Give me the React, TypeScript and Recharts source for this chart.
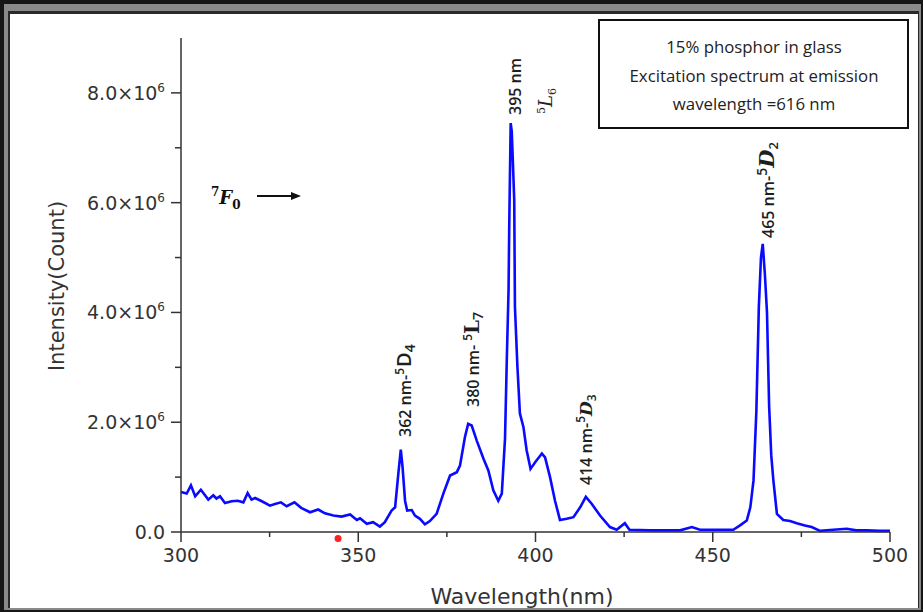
import React from 'react';
import { LineChart, Line, XAxis, YAxis, ReferenceDot } from 'recharts';

// Wavelength (nm)
const wavelength: number[] = [
  300.0, 301.6, 302.8, 304.0, 305.6, 307.7, 309.1, 310.0, 311.0, 312.4,
  314.3, 316.0, 317.6, 318.8, 319.9, 320.9, 322.8, 325.1, 326.5, 328.2,
  329.8, 332.0, 333.9, 336.4, 338.7, 340.6, 343.0, 345.3, 347.7, 349.6,
  350.5, 352.4, 354.2, 356.1, 357.5, 359.4, 360.4, 361.3, 362.0, 362.5,
  363.2, 363.8, 365.1, 366.0, 367.4, 368.8, 370.2, 372.1, 374.0, 375.9,
  377.8, 378.7, 380.1, 381.0, 382.0, 383.4, 385.3, 386.7, 388.1, 389.5,
  390.5, 391.4, 391.9, 392.4, 392.6, 393.0, 393.3, 393.6, 394.0, 394.2,
  394.9, 395.6, 396.6, 397.5, 398.6, 399.9, 401.8, 402.7, 404.1, 405.5,
  406.9, 408.8, 410.7, 412.6, 414.2, 415.9, 418.2, 421.0, 422.9, 425.2,
  426.5, 432.3, 440.8, 444.1, 446.4, 455.8, 457.7, 459.6, 460.6, 461.5,
  462.3, 463.0, 463.6, 464.1, 464.7, 465.3, 465.9, 466.5, 467.1, 468.1,
  469.9, 471.8, 473.7, 476.0, 477.9, 480.3, 484.0, 487.8, 490.5, 493.4,
  497.0, 500.0,
];

// Intensity in units of 10^6 counts
const intensity: number[] = [
  0.73, 0.70, 0.85, 0.65, 0.77, 0.59, 0.67, 0.61, 0.65, 0.53,
  0.56, 0.57, 0.54, 0.71, 0.59, 0.62, 0.56, 0.48, 0.51, 0.54,
  0.47, 0.54, 0.44, 0.36, 0.41, 0.34, 0.30, 0.28, 0.32, 0.22,
  0.25, 0.15, 0.18, 0.10, 0.18, 0.39, 0.45, 1.06, 1.50, 1.18,
  0.57, 0.39, 0.40, 0.30, 0.24, 0.14, 0.20, 0.33, 0.70, 1.03,
  1.09, 1.21, 1.73, 1.97, 1.94, 1.67, 1.34, 1.12, 0.76, 0.57,
  0.70, 1.70, 3.13, 4.41, 5.62, 7.45, 7.30, 6.78, 6.05, 4.10,
  3.01, 2.16, 1.91, 1.49, 1.15, 1.27, 1.43, 1.36, 1.00, 0.57,
  0.22, 0.24, 0.27, 0.45, 0.64, 0.51, 0.30, 0.09, 0.04, 0.16,
  0.04, 0.03, 0.03, 0.09, 0.04, 0.04, 0.12, 0.21, 0.45, 0.94,
  2.20, 4.10, 5.00, 5.25, 4.70, 4.00, 2.30, 1.40, 0.94, 0.33,
  0.22, 0.20, 0.16, 0.12, 0.09, 0.02, 0.04, 0.06, 0.03, 0.03,
  0.02, 0.02,
];

const xTicks: number[] = [300, 325, 350, 375, 400, 425, 450, 475, 500];
const yTicks: number[] = [0, 1, 2, 3, 4, 5, 6, 7, 8];

const legendLines: string[] = [
  '15% phosphor in glass',
  'Excitation spectrum at emission',
  'wavelength =616 nm',
];

const data = wavelength.map((w, i) => ({ w, v: intensity[i] }));

const AXIS = '#333';
const SANS = 'DejaVu Sans';
const ANN = 'Open Sans';
const SERIF = 'DejaVu Serif';

const XTick = (props: any) => {
  const { x, y, payload } = props;
  const major = payload.value % 50 === 0;
  return (
    <g>
      <line x1={x} x2={x} y1={y} y2={y + (major ? 10 : 5)} stroke={AXIS} strokeWidth={1.5} />
      {major && (
        <text x={x} y={y + 30} textAnchor="middle" fontFamily={SANS} fontSize={19} fill={AXIS}>
          {payload.value}
        </text>
      )}
    </g>
  );
};

const YTick = (props: any) => {
  const { x, y, payload } = props;
  const v = payload.value;
  const major = v % 2 === 0;
  return (
    <g>
      <line x1={x - (major ? 10 : 6)} x2={x} y1={y} y2={y} stroke={AXIS} strokeWidth={1.5} />
      {major && (
        <text x={x - 16} y={y + 7} textAnchor="end" fontFamily={SANS} fontSize={19} fill={AXIS}>
          {v === 0 ? (
            '0.0'
          ) : (
            <>
              {v.toFixed(1)}×10
              <tspan dy={-8} fontSize={12}>6</tspan>
            </>
          )}
        </text>
      )}
    </g>
  );
};

const Rot = ({ x, y, children }: { x: number; y: number; children: React.ReactNode }) => (
  <text transform={`translate(${x},${y}) rotate(-90)`} fill="#1e1e1e" fontFamily={ANN} fontSize={16} fontWeight={600}>
    {children}
  </text>
);

export default function App() {
  return (
    <div style={{ position: 'absolute', left: 0, top: 0, width: 923, height: 612, overflow: 'hidden' }}>
      <div style={{ position: 'absolute', left: 0, top: 0, width: 923, height: 612, background: '#161616' }} />
      <div
        style={{
          position: 'absolute',
          left: 4,
          top: 4,
          width: 923 - 6,
          height: 612 - 6,
          background: '#8a8a8a',
        }}
      />
      <div
        style={{
          position: 'absolute',
          left: 8,
          top: 11,
          width: 923 - 12,
          height: 612 - 15,
          background: '#2a2a2a',
        }}
      />
      <div
        style={{
          position: 'absolute',
          left: 10,
          top: 14,
          width: 923 - 15,
          height: 612 - 18,
          background: '#ffffff',
        }}
      />
      <div style={{ position: 'absolute', left: 0, top: 0 }}>
        <LineChart width={923} height={612} data={data} margin={{ top: 38, right: 33, bottom: 0, left: 0 }}>
          <XAxis
            dataKey="w"
            type="number"
            domain={[300, 500]}
            ticks={xTicks}
            interval={0}
            height={80}
            tickSize={0}
            tickMargin={0}
            tickLine={false}
            tick={<XTick />}
            axisLine={{ stroke: AXIS, strokeWidth: 1.5 }}
          />
          <YAxis
            type="number"
            domain={[0, 9]}
            ticks={yTicks}
            interval={0}
            width={181}
            tickSize={0}
            tickMargin={0}
            tickLine={false}
            tick={<YTick />}
            axisLine={{ stroke: AXIS, strokeWidth: 1.5 }}
          />
          <Line
            type="linear"
            dataKey="v"
            stroke="#0a0aff"
            strokeWidth={2.6}
            dot={false}
            isAnimationActive={false}
          />
          <ReferenceDot x={344.3} y={-0.12} r={3.5} fill="#ff2020" stroke="none" ifOverflow="visible" />
        </LineChart>
      </div>
      <svg width={923} height={612} style={{ position: 'absolute', left: 0, top: 0, pointerEvents: 'none' }}>
        <text
          transform="translate(57,286) rotate(-90)"
          textAnchor="middle"
          dominantBaseline="central"
          fontFamily={SANS}
          fontSize={21}
          fill={AXIS}
        >
          Intensity(Count)
        </text>
        <text x={522} y={604} textAnchor="middle" fontFamily={SANS} fontSize={22} fill={AXIS}>
          Wavelength(nm)
        </text>

        <rect x={599} y={20} width={309} height={108} fill="#fff" stroke="#111" strokeWidth={2} />
        {legendLines.map((t, i) => (
          <text key={t} x={754} y={53 + i * 28.5} textAnchor="middle" fontFamily={ANN} fontSize={16.8} fill="#222">
            {t}
          </text>
        ))}

        <Rot x={521} y={115}>395 nm</Rot>
        <text transform="translate(552,114) rotate(-90)" fill="#222" fontFamily={SERIF} fontSize={18}>
          <tspan fontSize={11} dy={-7}>5</tspan>
          <tspan fontStyle="italic" dy={7}>L</tspan>
          <tspan fontSize={11} dy={4}>6</tspan>
        </text>

        <Rot x={774} y={238}>
          465 nm-
          <tspan fontSize={14} dy={-7}>5</tspan>
          <tspan fontFamily={SERIF} fontStyle="italic" fontSize={21} dy={7}>D</tspan>
          <tspan fontSize={13} dy={4}>2</tspan>
        </Rot>

        <Rot x={411} y={437}>
          362 nm-
          <tspan fontSize={12} dy={-7}>5</tspan>
          <tspan fontSize={20} dx={1} dy={7}>D</tspan>
          <tspan fontSize={14} dy={4}>4</tspan>
        </Rot>

        <Rot x={479} y={407}>
          380 nm-
          <tspan fontSize={12} dx={4} dy={-7}>5</tspan>
          <tspan fontFamily={SERIF} fontSize={20} dy={7}>L</tspan>
          <tspan fontSize={14} dy={4}>7</tspan>
        </Rot>

        <Rot x={592} y={485}>
          414 nm-
          <tspan fontSize={12} dy={-7}>5</tspan>
          <tspan fontFamily={SERIF} fontStyle="italic" fontSize={17} dy={7}>D</tspan>
          <tspan fontSize={12} dy={4}>3</tspan>
        </Rot>

        <text x={211} y={204} fill="#111" fontFamily={SERIF} fontWeight="bold">
          <tspan fontSize={12} dy={-8}>7</tspan>
          <tspan fontSize={18} fontStyle="italic" dy={8}>F</tspan>
          <tspan fontSize={12} dy={5}>0</tspan>
        </text>
        <line x1={257} y1={196} x2={292} y2={196} stroke="#111" strokeWidth={2} />
        <polygon points="301,196 291,192 291,200" fill="#111" />
      </svg>
    </div>
  );
}
